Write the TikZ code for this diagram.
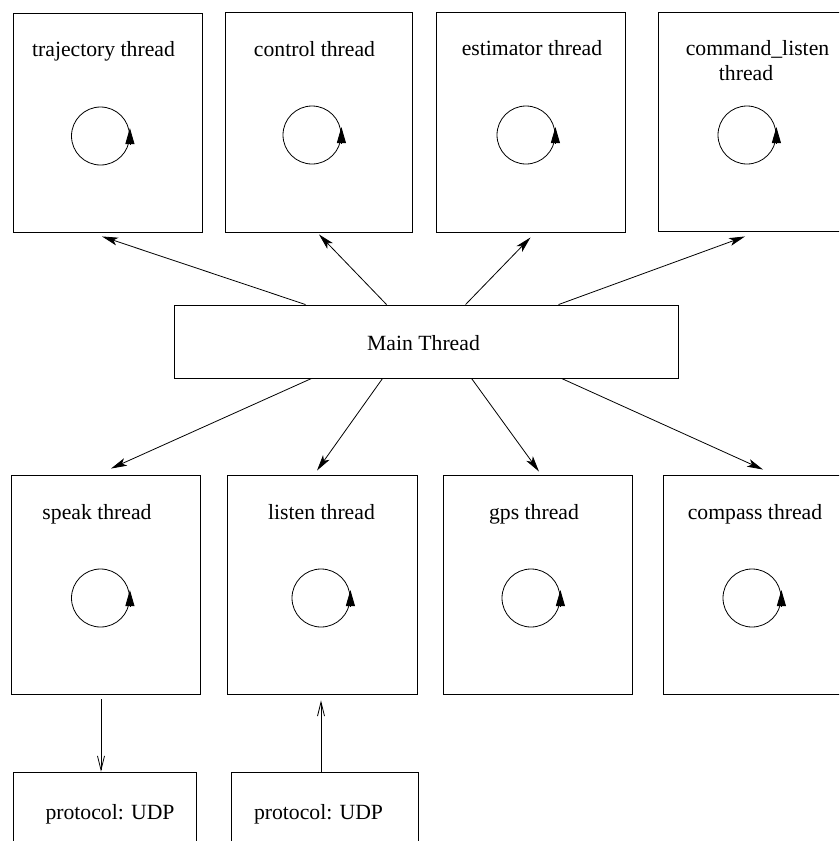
\documentclass[tikz,border=0pt]{standalone}
\usepackage{fontspec}
\setmainfont{Liberation Serif}
\usetikzlibrary{arrows.meta}
\begin{document}
\begin{tikzpicture}[x=1pt,y=-1pt,
  tbox/.style={draw, rectangle, line width=0.9pt, inner sep=0pt},
  loopc/.style={draw, circle, line width=0.8pt, minimum size=58pt, inner sep=0pt},
  lbl/.style={anchor=base, inner sep=0pt, font=\fontsize{21.7}{26}\selectfont},
  conn/.style={line width=0.8pt, -{Stealth[length=16pt,width=8pt,inset=4pt]}},
  openarr/.style={line width=0.8pt, -{Straight Barb[length=14pt,width=7pt]}},
  looptip/.style={line width=0.8pt, -{Triangle[length=16pt,width=9pt]}}]
\path[use as bounding box] (0,0) rectangle (839,841);
\clip (0,0) rectangle (839,841);
% top threads
\node[tbox, minimum width=189pt, minimum height=219pt] (traj) at (107.5,122.5) {};
\node[tbox, minimum width=187pt, minimum height=220pt] (ctrl) at (318.5,122) {};
\node[tbox, minimum width=189pt, minimum height=220pt] (est) at (530.5,122) {};
\node[tbox, minimum width=190pt, minimum height=219pt] (cmd) at (753,121.5) {};
% main
\node[tbox, minimum width=504pt, minimum height=73pt] (main) at (426,341.5) {};
% bottom threads
\node[tbox, minimum width=189pt, minimum height=219pt] (speak) at (105.5,584.5) {};
\node[tbox, minimum width=190pt, minimum height=219pt] (listen) at (322,584.5) {};
\node[tbox, minimum width=189pt, minimum height=219pt] (gps) at (537.5,584.5) {};
\node[tbox, minimum width=190pt, minimum height=219pt] (comp) at (758,584.5) {};
% protocol boxes
\node[tbox, minimum width=183pt, minimum height=100pt] (p1) at (104.5,822) {};
\node[tbox, minimum width=187pt, minimum height=100pt] (p2) at (324.5,822) {};
% labels
\node[lbl] (ltraj) at (103.5,56) {trajectory thread};
\node[lbl] (lctrl) at (314.5,56) {control thread};
\node[lbl] (lest) at (532,55) {estimator thread};
\node[lbl] (lcmd) at (757.5,55) {command\_listen};
\node[lbl] (lcmdb) at (746,80) {thread};
\node[lbl] (lmain) at (423.5,350.5) {Main Thread};
\node[lbl] (lspeak) at (97,519) {speak thread};
\node[lbl] (llisten) at (321.5,519) {listen thread};
\node[lbl] (lgps) at (534,519) {gps thread};
\node[lbl] (lcomp) at (755,519) {compass thread};
\node[lbl] (lp1) at (110,819) {protocol: UDP};
\node[lbl] (lp2) at (318.5,819) {protocol: UDP};
% loops
\foreach \n/\x/\y in {c1/100.5/136, c2/312/135, c3/526/135, c4/747/135,
                       c5/100.5/598, c6/321/598, c7/531/598, c8/752/598} {
  \node[loopc] (\n) at (\x,\y) {};
  \draw[looptip] ([yshift=-8pt]\n.east) -- ([yshift=8pt]\n.east);
}
% connectors from main
\draw[conn] ([xshift=132pt]main.north west) -- ([xshift=-5.5pt,yshift=-4pt]traj.south);
\draw[conn] ([xshift=213pt]main.north west) -- ([xshift=0.5pt,yshift=-2pt]ctrl.south);
\draw[conn] ([xshift=292pt]main.north west) -- ([yshift=-5pt]est.south);
\draw[conn] ([xshift=385pt]main.north west) -- ([xshift=-8pt,yshift=-5pt]cmd.south);
\draw[conn] ([xshift=138pt]main.south west) -- ([xshift=5.5pt,yshift=6pt]speak.north);
\draw[conn] ([xshift=209pt]main.south west) -- ([xshift=-5pt,yshift=4pt]listen.north);
\draw[conn] ([xshift=298pt]main.south west) -- ([xshift=1.5pt,yshift=3pt]gps.north);
\draw[conn] ([xshift=388pt]main.south west) -- ([xshift=5pt,yshift=5pt]comp.north);
% protocol connectors
\draw[openarr] ([xshift=-4.5pt,yshift=-5pt]speak.south) -- ([xshift=-3.5pt]p1.north);
\draw[openarr] ([xshift=-3.5pt]p2.north) -- ([xshift=-1pt,yshift=-6pt]listen.south);
\end{tikzpicture}
\end{document}
